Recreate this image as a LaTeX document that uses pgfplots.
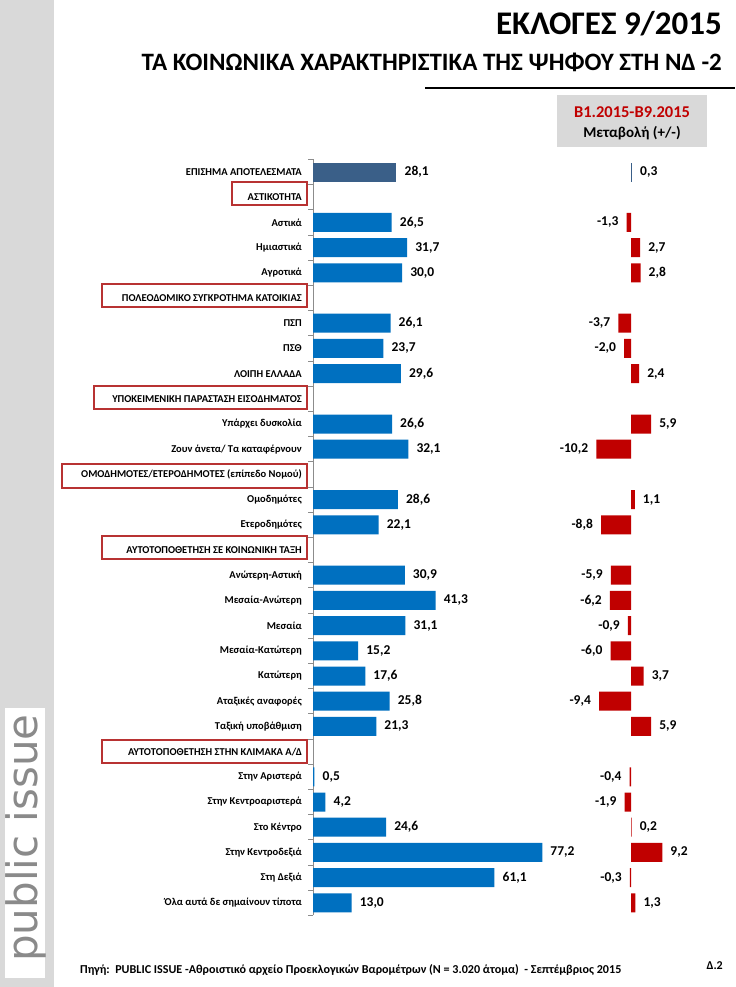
\documentclass[border=0pt]{standalone}
\usepackage{pgfplots}
\pgfplotsset{compat=1.18}
\usepackage{fontspec}
\setmainfont{Carlito}
\newfontfamily\dejavu{DejaVu Sans}
\definecolor{barblue}{HTML}{0070C0}
\definecolor{topbar}{HTML}{3A5F88}
\definecolor{chred}{HTML}{C00000}
\definecolor{boxred}{HTML}{B83232}
\definecolor{stripgrey}{HTML}{D9D9D9}
\definecolor{axgrey}{HTML}{8C8C8C}
\definecolor{logogrey}{HTML}{8A8A8A}
\newcommand{\fs}[1]{\fontsize{#1bp}{#1bp}\selectfont}

\pgfplotstableread{
y v
3 26.5
4 31.7
5 30.0
7 26.1
8 23.7
9 29.6
11 26.6
12 32.1
14 28.6
15 22.1
17 30.9
18 41.3
19 31.1
20 15.2
21 17.6
22 25.8
23 21.3
25 0.5
26 4.2
27 24.6
28 77.2
29 61.1
30 13.0
}\maintab

\pgfplotstableread{
y v
4 2.7
5 2.8
9 2.4
11 5.9
14 1.1
21 3.7
23 5.9
27 0.2
28 9.2
30 1.3
}\postab

\pgfplotstableread{
y v
3 -1.3
7 -3.7
8 -2.0
12 -10.2
15 -8.8
17 -5.9
18 -6.2
19 -0.9
20 -6.0
22 -9.4
25 -0.4
26 -1.9
29 -0.3
}\negtab

\begin{document}
\begin{tikzpicture}[x=1bp,y=1bp]
\fill[white] (0,0) rectangle (735,-987);
\fill[stripgrey] (0,0) rectangle (54,-987);
\fill[white] (5,-708) rectangle (45,-978);
\node[rotate=90, text=logogrey, font=\dejavu\fs{42}, inner sep=0pt] at (26,-838) {public issue};

% titles
\node[anchor=base east, inner sep=0pt, font=\bfseries\fs{33}] at (722,-34) {ΕΚΛΟΓΕΣ 9/2015};
\node[anchor=base east, inner sep=0pt, font=\bfseries\fs{25}] at (722,-70) {ΤΑ ΚΟΙΝΩΝΙΚΑ ΧΑΡΑΚΤΗΡΙΣΤΙΚΑ ΤΗΣ ΨΗΦΟΥ ΣΤΗ ΝΔ -2};
\draw[black, line width=2bp] (425,-88) -- (735,-88);
\fill[stripgrey] (557,-95) rectangle (707,-147);
\node[anchor=base, inner sep=0pt, text=chred, font=\bfseries\fs{16.5}] at (632,-117) {Β1.2015-Β9.2015};
\node[anchor=base, inner sep=0pt, font=\bfseries\fs{15}] at (632,-137) {Μεταβολή (+/-)};

% header boxes
\begin{scope}[boxred, line width=1.2bp]
\draw (232,-182) rectangle (307,-205);
\draw (102,-284) rectangle (307,-307);
\draw (94,-386) rectangle (307,-409);
\draw (62,-464) rectangle (307,-488);
\draw (102,-536) rectangle (307,-559);
\draw (102,-740) rectangle (307,-763);
\end{scope}

\begin{axis}[
  at={(313bp,-159.4bp)}, anchor=north west,
  scale only axis, width=237.6bp, height=756bp,
  xmin=0, xmax=80, ymin=0.5, ymax=30.5, y dir=reverse,
  xbar, bar width=19bp, bar shift=0pt,
  axis x line=none, axis y line*=left,
  axis line style={axgrey, line width=0.8bp},
  ytick={1,...,30},
  yticklabels={ΕΠΙΣΗΜΑ ΑΠΟΤΕΛΕΣΜΑΤΑ, ΑΣΤΙΚΟΤΗΤΑ, Αστικά, Ημιαστικά, Αγροτικά,
    ΠΟΛΕΟΔΟΜΙΚΟ ΣΥΓΚΡΟΤΗΜΑ ΚΑΤΟΙΚΙΑΣ, ΠΣΠ, ΠΣΘ, ΛΟΙΠΗ ΕΛΛΑΔΑ,
    ΥΠΟΚΕΙΜΕΝΙΚΗ ΠΑΡΑΣΤΑΣΗ ΕΙΣΟΔΗΜΑΤΟΣ, Υπάρχει δυσκολία, Ζουν άνετα/ Τα καταφέρνουν,
    ΟΜΟΔΗΜΟΤΕΣ/ΕΤΕΡΟΔΗΜΟΤΕΣ (επίπεδο Νομού), Ομοδημότες, Ετεροδημότες,
    ΑΥΤΟΤΟΠΟΘΕΤΗΣΗ ΣΕ ΚΟΙΝΩΝΙΚΗ ΤΑΞΗ, Ανώτερη-Αστική, Μεσαία-Ανώτερη, Μεσαία,
    Μεσαία-Κατώτερη, Κατώτερη, Αταξικές αναφορές, Ταξική υποβάθμιση,
    ΑΥΤΟΤΟΠΟΘΕΤΗΣΗ ΣΤΗΝ ΚΛΙΜΑΚΑ Α/Δ, Στην Αριστερά, Στην Κεντροαριστερά, Στο Κέντρο,
    Στην Κεντροδεξιά, Στη Δεξιά, Όλα αυτά δε σημαίνουν τίποτα},
  major tick length=0pt,
  minor ytick={0.5,1.5,...,30.5}, minor tick length=5bp, tick align=outside,
  minor tick style={axgrey, line width=0.8bp},
  yticklabel style={font=\bfseries\fs{10.5}, anchor=east, inner sep=0pt, xshift=-11bp},
  clip=false,
  nodes near coords,
  every node near coord/.style={anchor=west, inner sep=0pt, xshift=8bp, font=\bfseries\fs{13.5}, text=black},
  /pgf/number format/.cd, fixed, fixed zerofill, precision=1, use comma, assume math mode=true,
]
\addplot[fill=topbar, draw=none] coordinates {(28.1,1)};
\addplot[fill=barblue, draw=none] table[x=v, y=y] {\maintab};
\end{axis}

\begin{axis}[
  at={(590.2bp,-159.4bp)}, anchor=north west,
  scale only axis, width=81.6bp, height=756bp,
  xmin=-12, xmax=12, ymin=0.5, ymax=30.5, y dir=reverse,
  xbar, bar width=19bp, bar shift=0pt,
  hide axis, clip=false,
  nodes near coords,
  every node near coord/.style={inner sep=0pt, font=\bfseries\fs{13.5}, text=black},
  /pgf/number format/.cd, fixed, fixed zerofill, precision=1, use comma, assume math mode=true,
]
\addplot[fill=topbar, draw=none, nodes near coords style={anchor=west, xshift=8bp}] coordinates {(0.3,1)};
\addplot[fill=chred, draw=none, nodes near coords style={anchor=west, xshift=8bp}] table[x=v, y=y] {\postab};
\addplot[fill=chred, draw=none, nodes near coords style={anchor=east, xshift=-8bp}] table[x=v, y=y] {\negtab};
\end{axis}

% footer
\node[anchor=base west, inner sep=0pt, font=\bfseries\fs{12.1}] at (80,-973) {Πηγή:\ \ PUBLIC ISSUE -Αθροιστικό αρχείο Προεκλογικών Βαρομέτρων (Ν = 3.020 άτομα)\ \ - Σεπτέμβριος 2015};
\node[anchor=base east, inner sep=0pt, font=\bfseries\fs{12}] at (723,-969) {Δ.2};
\end{tikzpicture}
\end{document}
